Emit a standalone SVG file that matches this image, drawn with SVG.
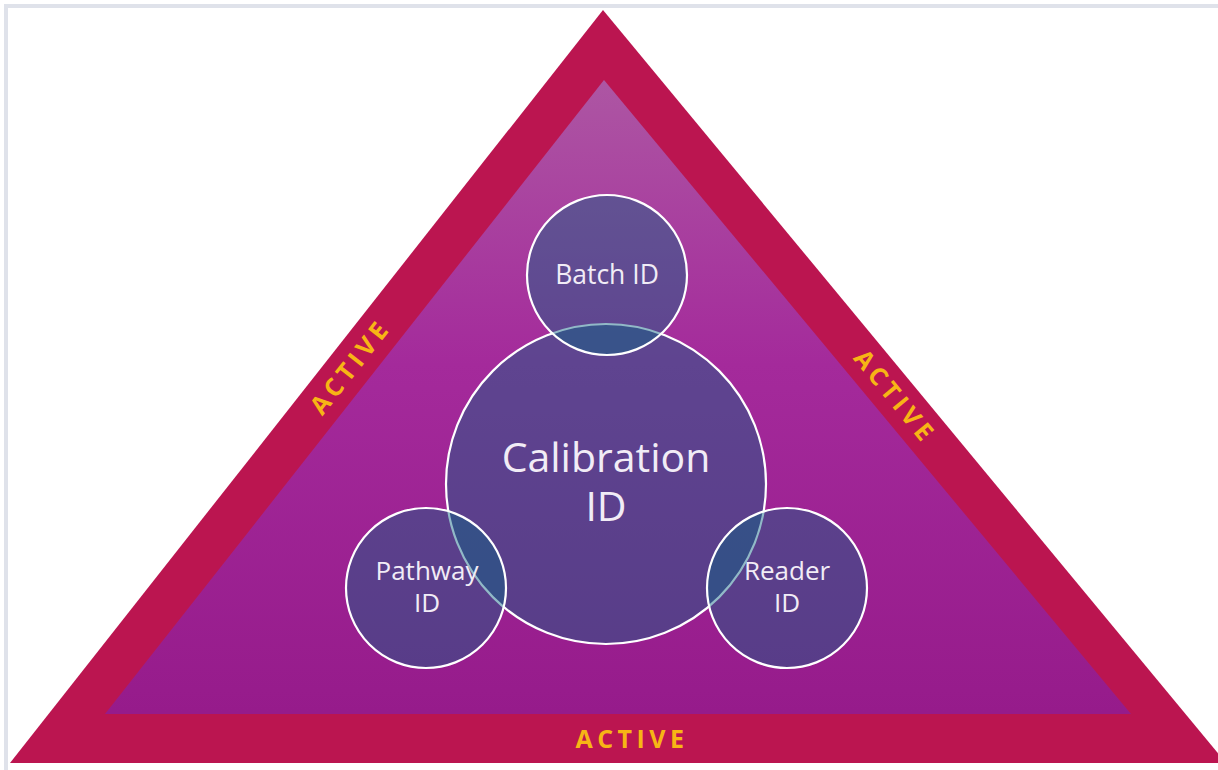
<svg xmlns="http://www.w3.org/2000/svg" width="1218" height="770" viewBox="0 0 1218 770">
<style>
.frame{fill:none;stroke:#dfe2ea;stroke-width:4}
.id{fill:#0a6482;fill-opacity:0.45;stroke:#ffffff;stroke-width:2.2}
.lbl{font-family:"Open Sans","Noto Sans",sans-serif;fill:#f1ecf6;text-anchor:middle}
.act{font-family:"Open Sans","Noto Sans",sans-serif;font-weight:bold;fill:#f7b515;font-size:25px;letter-spacing:4.5px;text-anchor:middle}
</style>
<defs>
<linearGradient id="inner" x1="0" y1="80" x2="0" y2="713" gradientUnits="userSpaceOnUse">
<stop offset="0" stop-color="#ad56a3"/>
<stop offset="0.45" stop-color="#a42a9b"/>
<stop offset="1" stop-color="#961b8b"/>
</linearGradient>
</defs>
<rect width="1218" height="770" fill="#ffffff"/>
<path class="frame" d="M6 770 V6 H1218"/>
<g id="triangle">
<polygon points="603,10 10,763 1226,763" fill="#bb1550"/>
<polygon points="604,80 105,714 1131,714" fill="url(#inner)"/>
</g>
<g id="labels-active">
<text class="act" x="632" y="748">ACTIVE</text>
<text class="act" transform="translate(349,368) rotate(-51.8)" x="2" y="9">ACTIVE</text>
<text class="act" transform="translate(894,395) rotate(50.6)" x="2" y="9">ACTIVE</text>
</g>
<g id="calibration">
<circle class="id" cx="606" cy="484" r="160"/>
<text class="lbl" font-size="41"><tspan x="606" y="472">Calibration</tspan><tspan x="606" y="521">ID</tspan></text>
</g>
<g id="batch">
<circle class="id" cx="607" cy="275" r="80"/>
<text class="lbl" x="607" y="284" font-size="26.5">Batch ID</text>
</g>
<g id="pathway">
<circle class="id" cx="426" cy="588" r="80"/>
<text class="lbl" font-size="26"><tspan x="427" y="580">Pathway</tspan><tspan x="427" y="612">ID</tspan></text>
</g>
<g id="reader">
<circle class="id" cx="787" cy="588" r="80"/>
<text class="lbl" font-size="26"><tspan x="787" y="580">Reader</tspan><tspan x="787" y="612">ID</tspan></text>
</g>
<g id="connectors"/>
</svg>
